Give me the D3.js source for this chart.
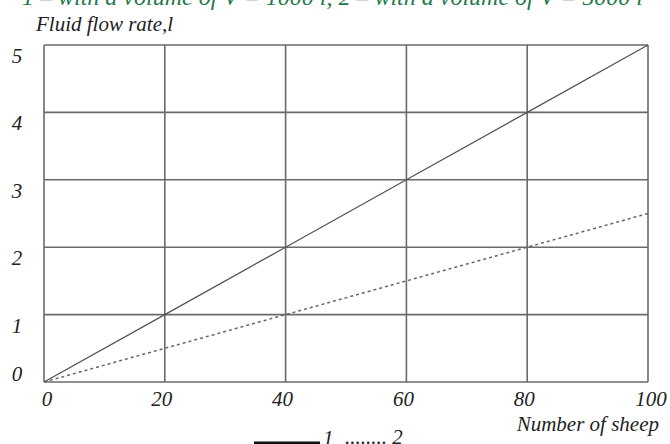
<!DOCTYPE html>
<html><head><meta charset="utf-8">
<script src="https://cdn.jsdelivr.net/npm/d3@7"></script>
<style>
html,body{margin:0;padding:0;background:#fff;overflow:hidden}
text{font-family:"Liberation Serif","DejaVu Serif",serif;font-style:italic}
</style></head>
<body><svg id="c" width="670" height="444"></svg>
<script>
const sheep = [0, 20, 40, 60, 80, 100];
const series1 = [0, 1, 2, 3, 4, 5];          // V = 1000 l (solid)
const series2 = [0, 0.5, 1, 1.5, 2, 2.5];    // V = 5000 l (dotted)
const xTicks = [0, 20, 40, 60, 80, 100];
const yTicks = [0, 1, 2, 3, 4, 5];
const titleText = "1 – with a volume of V = 1000 l, 2 – with a volume of V = 5000 l";
const yTitle = "Fluid flow rate,l";
const xTitle = "Number of sheep";

const svg = d3.select("#c");
const x = d3.scaleLinear().domain([0, 100]).range([44, 648]);
const y = d3.scaleLinear().domain([0, 5]).range([382, 45]);

// cut-off green caption at top
svg.append("text").attr("x", 22).attr("y", 5)
  .attr("fill", "#1f7a4c").attr("font-size", 24)
  .text(titleText);

// grid
const g = svg.append("g");
g.selectAll(".vg").data(xTicks).join("line")
  .attr("x1", d => x(d)).attr("x2", d => x(d))
  .attr("y1", y(5)).attr("y2", y(0))
  .attr("stroke", "#6a6a6a").attr("stroke-width", 1.6);
g.selectAll(".hg").data(yTicks).join("line")
  .attr("y1", d => y(d)).attr("y2", d => y(d))
  .attr("x1", x(0)).attr("x2", x(100))
  .attr("stroke", "#6a6a6a").attr("stroke-width", 1.6);

// lines
const pts1 = sheep.map((s, i) => [s, series1[i]]);
const pts2 = sheep.map((s, i) => [s, series2[i]]);
const line = d3.line().x(d => x(d[0])).y(d => y(d[1]));
svg.append("path").attr("d", line(pts1)).attr("fill", "none")
  .attr("stroke", "#555").attr("stroke-width", 1.3);
svg.append("path").attr("d", line(pts2)).attr("fill", "none")
  .attr("stroke", "#666").attr("stroke-width", 1.5).attr("stroke-dasharray", "3,3");

// y tick labels
svg.selectAll(".yl").data(yTicks).join("text")
  .attr("x", 17).attr("y", d => d === 0 ? y(d) - 1 : y(d) + 18)
  .attr("text-anchor", "middle").attr("font-size", 21).attr("fill", "#222")
  .text(d => d);

// x tick labels
svg.selectAll(".xl").data(xTicks).join("text")
  .attr("x", d => d === 0 ? x(d) + 3 : (d === 100 ? x(d) + 3 : x(d) - 3))
  .attr("y", 406)
  .attr("text-anchor", "middle").attr("font-size", 21).attr("fill", "#222")
  .text(d => d);

// axis titles
svg.append("text").attr("x", 36).attr("y", 31).attr("font-size", 21).attr("fill", "#222").text(yTitle);
svg.append("text").attr("x", 659).attr("y", 431).attr("text-anchor", "end")
  .attr("font-size", 21).attr("fill", "#222").text(xTitle);

// legend (cut at bottom)
svg.append("line").attr("x1", 254).attr("x2", 320).attr("y1", 444).attr("y2", 444)
  .attr("stroke", "#111").attr("stroke-width", 5);
svg.append("text").attr("x", 323).attr("y", 445).attr("font-size", 21).attr("fill", "#222").text("1");
svg.append("text").attr("x", 345).attr("y", 444).attr("font-size", 21).attr("fill", "#222").text("........ 2");
</script></body></html>
